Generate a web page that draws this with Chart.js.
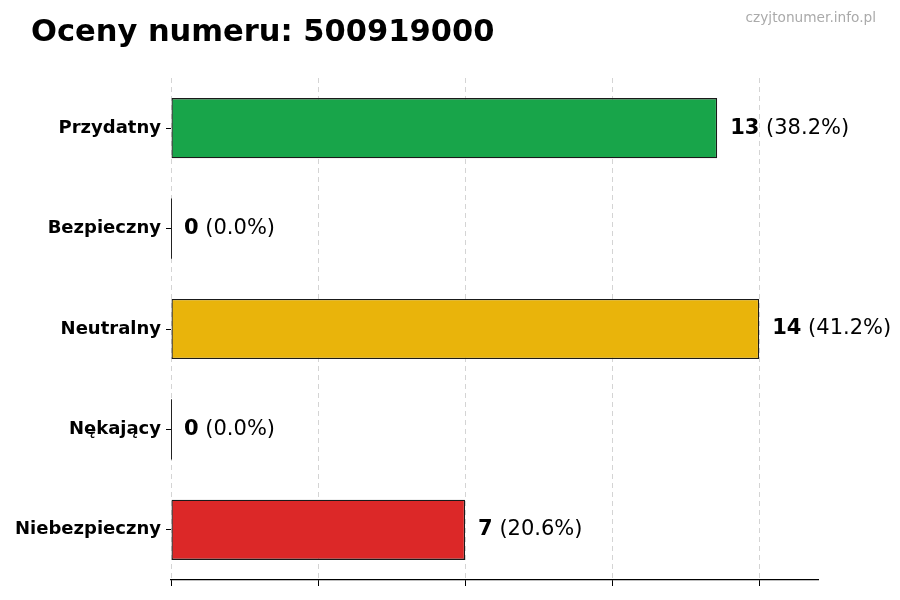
<!DOCTYPE html>
<html>
<head>
<meta charset="utf-8">
<script src="https://cdn.jsdelivr.net/npm/chart.js@4/dist/chart.umd.min.js"></script>
<style>
  html, body { margin: 0; padding: 0; background: #fff; }
  #wrap { width: 900px; height: 600px; }
</style>
</head>
<body>
<div id="wrap"><canvas id="ratings"></canvas></div>
<script>
const categories = ['Przydatny', 'Bezpieczny', 'Neutralny', 'Nękający', 'Niebezpieczny'];
const counts = [13, 0, 14, 0, 7];
const barColors = ['#18a54a', '#18a54a', '#e9b40b', '#dc2828', '#dc2828'];
const xTicks = [0, 3.5, 7, 10.5, 14];

const titleText = 'Oceny numeru: 500919000';
const siteText = 'czyjtonumer.info.pl';
const FONT = '"DejaVu Sans", sans-serif';

const total = counts.reduce((a, b) => a + b, 0);

// value + percent next to each bar, and the thin edge of empty bars
const barLabels = {
  id: 'barLabels',
  afterDatasetsDraw(chart) {
    const ctx = chart.ctx;
    const meta = chart.getDatasetMeta(0);
    ctx.save();
    meta.data.forEach((bar, i) => {
      const v = counts[i];
      if (v === 0) {
        ctx.strokeStyle = '#222';
        ctx.lineWidth = 1;
        ctx.beginPath();
        ctx.moveTo(bar.x + 0.5, bar.y - bar.height / 2);
        ctx.lineTo(bar.x + 0.5, bar.y + bar.height / 2);
        ctx.stroke();
      }
      const pct = total ? (v / total * 100).toFixed(1) : '0.0';
      let x = bar.x + 13;
      ctx.textBaseline = 'middle';
      ctx.textAlign = 'left';
      ctx.fillStyle = '#000';
      ctx.font = 'bold 21px ' + FONT;
      ctx.fillText(String(v), x, bar.y);
      x += ctx.measureText(String(v)).width;
      ctx.font = '21px ' + FONT;
      ctx.fillText(' (' + pct + '%)', x, bar.y);
    });
    ctx.restore();
  }
};

const headings = {
  id: 'headings',
  afterDraw(chart) {
    const ctx = chart.ctx;
    ctx.save();
    ctx.fillStyle = '#000';
    ctx.textBaseline = 'alphabetic';
    ctx.textAlign = 'left';
    ctx.font = 'bold 30.5px ' + FONT;
    ctx.fillText(titleText, 31, 41);
    ctx.fillStyle = '#aaaaaa';
    ctx.textAlign = 'right';
    ctx.font = '13.7px ' + FONT;
    ctx.fillText(siteText, 876, 22);
    ctx.restore();
  }
};

const ctx = document.getElementById('ratings').getContext('2d');
const chart = new Chart(ctx, {
  type: 'bar',
  data: {
    labels: categories,
    datasets: [
      {
        data: counts,
        backgroundColor: barColors,
        borderColor: '#1a1a1a',
        borderWidth: 1.3,
        borderSkipped: false,
        barPercentage: 0.6,
        categoryPercentage: 1.0,
      },
    ],
  },
  options: {
    indexAxis: 'y',
    responsive: true,
    maintainAspectRatio: false,
    animation: false,
    layout: { padding: { top: 78, right: 82, bottom: 14, left: 0 } },
    plugins: {
      legend: { display: false },
      tooltip: { enabled: false },
      title: { display: false },
    },
    scales: {
      x: {
        min: 0,
        max: 15.4,
        z: 1,
        afterBuildTicks: (s) => {
          s.ticks = xTicks.map((v) => ({ value: v }));
        },
        ticks: { display: false },
        grid: {
          color: 'rgba(170,170,170,0.5)',
          lineWidth: 1,
          tickColor: '#000',
          tickLength: 6,
          tickWidth: 1,
          tickBorderDash: [],
        },
        border: { display: true, color: '#000', width: 1.2, dash: [5, 4] },
      },
      y: {
        offset: true,
        afterFit: (s) => {
          s.width = 171;
        },
        ticks: {
          color: '#000',
          padding: 5,
          font: { family: FONT, size: 18, weight: 'bold' },
        },
        grid: {
          offset: false,
          drawOnChartArea: false,
          drawTicks: true,
          tickLength: 5,
          tickColor: '#000',
        },
        border: { display: false },
      },
    },
  },
  plugins: [barLabels, headings],
});
</script>
</body>
</html>
